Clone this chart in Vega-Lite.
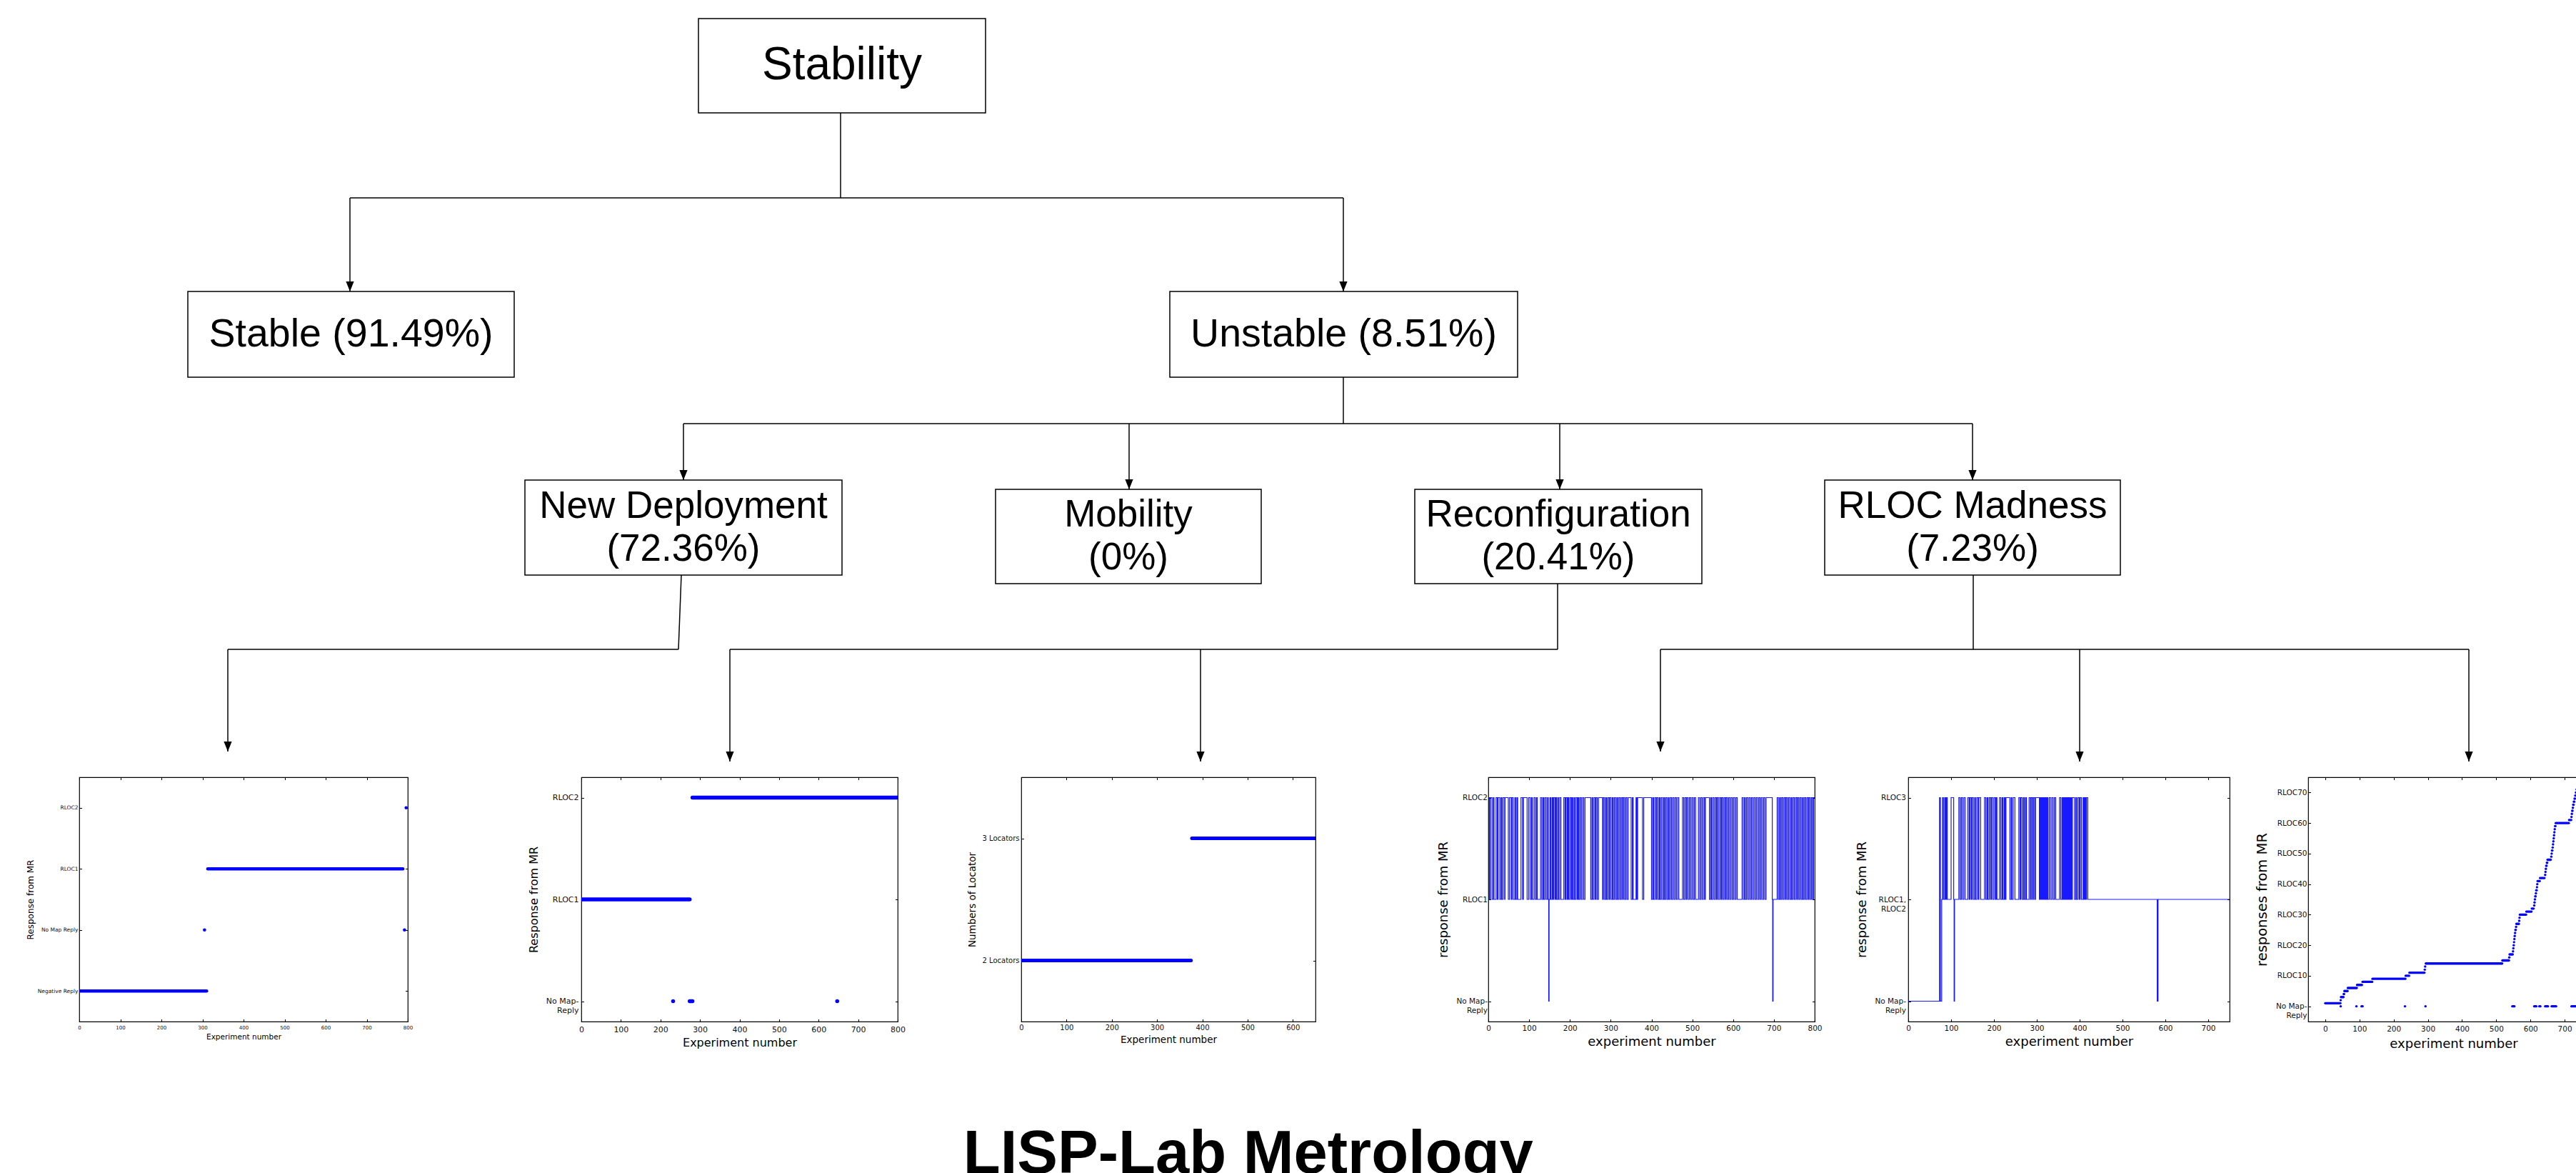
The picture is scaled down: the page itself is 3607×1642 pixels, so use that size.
{
  "$schema": "https://vega.github.io/schema/vega-lite/v6.json",
  "padding": 0,
  "background": "white",
  "config": {
    "view": {"stroke": null},
    "axis": {
      "grid": false, "domain": false, "ticks": true, "tickSize": -3.5, "tickColor": "black", "tickWidth": 1,
      "labelFont": "DejaVu Sans", "labelColor": "#111", "titleFont": "DejaVu Sans", "titleFontWeight": "normal",
      "titleColor": "black", "minExtent": 0, "maxExtent": 0, "labelOverlap": false, "labelFlush": false
    }
  },
  "title": {
    "text": "LISP-Lab Metrology", "orient": "bottom", "anchor": "middle", "font": "Liberation Sans",
    "fontSize": 85, "fontWeight": "bold", "color": "black", "baseline": "alphabetic", "offset": 171, "dx": -77
  },
  "datasets": {
    "nodes": [
      {"node": "Stability", "level": 1, "x0": 978, "x1": 1380, "y0": 26, "y1": 158},
      {"node": "Stable (91.49%)", "level": 2, "x0": 263, "x1": 720, "y0": 408, "y1": 528},
      {"node": "Unstable (8.51%)", "level": 2, "x0": 1638, "x1": 2125, "y0": 408, "y1": 528},
      {"node": "New Deployment\n(72.36%)", "level": 3, "x0": 735, "x1": 1179, "y0": 672, "y1": 805},
      {"node": "Mobility\n(0%)", "level": 3, "x0": 1394, "x1": 1766, "y0": 685, "y1": 817},
      {"node": "Reconfiguration\n(20.41%)", "level": 3, "x0": 1981, "x1": 2383, "y0": 685, "y1": 817},
      {"node": "RLOC Madness\n(7.23%)", "level": 3, "x0": 2555, "x1": 2969, "y0": 672, "y1": 805}
    ],
    "edges": [
      {"x": 1177, "y": 158, "x2": 1177, "y2": 277, "arrow": false},
      {"x": 490, "y": 277, "x2": 1881, "y2": 277, "arrow": false},
      {"x": 490, "y": 277, "x2": 490, "y2": 408, "arrow": true},
      {"x": 1881, "y": 277, "x2": 1881, "y2": 408, "arrow": true},
      {"x": 1881, "y": 528, "x2": 1881, "y2": 593, "arrow": false},
      {"x": 957, "y": 593, "x2": 2762, "y2": 593, "arrow": false},
      {"x": 957, "y": 593, "x2": 957, "y2": 672, "arrow": true},
      {"x": 1581, "y": 593, "x2": 1581, "y2": 685, "arrow": true},
      {"x": 2184, "y": 593, "x2": 2184, "y2": 685, "arrow": true},
      {"x": 2762, "y": 593, "x2": 2762, "y2": 672, "arrow": true},
      {"x": 954, "y": 805, "x2": 950, "y2": 909, "arrow": false},
      {"x": 319, "y": 909, "x2": 950, "y2": 909, "arrow": false},
      {"x": 319, "y": 909, "x2": 319, "y2": 1052, "arrow": true},
      {"x": 2181, "y": 817, "x2": 2181, "y2": 909, "arrow": false},
      {"x": 1022, "y": 909, "x2": 2181, "y2": 909, "arrow": false},
      {"x": 1022, "y": 909, "x2": 1022, "y2": 1066, "arrow": true},
      {"x": 1681, "y": 909, "x2": 1681, "y2": 1066, "arrow": true},
      {"x": 2763, "y": 805, "x2": 2763, "y2": 909, "arrow": false},
      {"x": 2325, "y": 909, "x2": 3457, "y2": 909, "arrow": false},
      {"x": 2325, "y": 909, "x2": 2325, "y2": 1052, "arrow": true},
      {"x": 2912, "y": 909, "x2": 2912, "y2": 1066, "arrow": true},
      {"x": 3457, "y": 909, "x2": 3457, "y2": 1066, "arrow": true}
    ],
    "p1": [
      {"from": 0, "to": 310, "response": "Negative Reply"},
      {"from": 305, "to": 305, "response": "No Map Reply"},
      {"from": 313, "to": 788, "response": "RLOC1"},
      {"from": 792, "to": 792, "response": "No Map Reply"},
      {"from": 796, "to": 796, "response": "RLOC2"}
    ],
    "p2": [
      {"from": 0, "to": 274, "response": "RLOC1"},
      {"from": 281, "to": 800, "response": "RLOC2"},
      {"from": 232, "to": 232, "response": "No Map-Reply"},
      {"from": 274, "to": 281, "response": "No Map-Reply"},
      {"from": 647, "to": 647, "response": "No Map-Reply"}
    ],
    "p3": [
      {"from": 0, "to": 375, "locators": "2 Locators"},
      {"from": 377, "to": 650, "locators": "3 Locators"}
    ],
    "p4": [
      {"e":0,"r":"RLOC2"},{"e":3,"r":"RLOC1"},{"e":5,"r":"RLOC2"},{"e":9,"r":"RLOC1"},{"e":12,"r":"RLOC2"},{"e":14,"r":"RLOC1"},{"e":19,"r":"RLOC2"},{"e":22,"r":"RLOC1"},{"e":24,"r":"RLOC2"},{"e":28,"r":"RLOC1"},{"e":31,"r":"RLOC2"},{"e":33,"r":"RLOC1"},{"e":36,"r":"RLOC2"},{"e":40,"r":"RLOC1"},{"e":41,"r":"RLOC2"},
      {"e":49,"r":"RLOC1"},{"e":52,"r":"RLOC2"},{"e":56,"r":"RLOC1"},{"e":58,"r":"RLOC2"},{"e":61,"r":"RLOC1"},{"e":65,"r":"RLOC2"},{"e":67,"r":"RLOC1"},{"e":70,"r":"RLOC2"},{"e":72,"r":"RLOC1"},
      {"e":80,"r":"RLOC2"},{"e":84,"r":"RLOC1"},{"e":86,"r":"RLOC2"},
      {"e":95,"r":"RLOC1"},{"e":99,"r":"RLOC2"},{"e":103,"r":"RLOC1"},{"e":106,"r":"RLOC2"},{"e":108,"r":"RLOC1"},{"e":112,"r":"RLOC2"},{"e":115,"r":"RLOC1"},{"e":118,"r":"RLOC2"},{"e":120,"r":"RLOC1"},
      {"e":128,"r":"RLOC2"},{"e":131,"r":"RLOC1"},{"e":134,"r":"RLOC2"},{"e":136,"r":"RLOC1"},{"e":139,"r":"RLOC2"},{"e":142,"r":"RLOC1"},{"e":145,"r":"RLOC2"},{"e":147,"r":"RLOC1"},{"e":148,"r":"No Map-Reply"},{"e":149,"r":"RLOC1"},{"e":151,"r":"RLOC2"},{"e":153,"r":"RLOC1"},{"e":156,"r":"RLOC2"},{"e":158,"r":"RLOC1"},{"e":160,"r":"RLOC2"},{"e":163,"r":"RLOC1"},{"e":165,"r":"RLOC2"},{"e":167,"r":"RLOC1"},{"e":170,"r":"RLOC2"},{"e":172,"r":"RLOC1"},{"e":175,"r":"RLOC2"},{"e":178,"r":"RLOC1"},
      {"e":185,"r":"RLOC2"},{"e":188,"r":"RLOC1"},{"e":190,"r":"RLOC2"},{"e":193,"r":"RLOC1"},{"e":195,"r":"RLOC2"},{"e":197,"r":"RLOC1"},{"e":200,"r":"RLOC2"},{"e":203,"r":"RLOC1"},{"e":205,"r":"RLOC2"},{"e":207,"r":"RLOC1"},{"e":210,"r":"RLOC2"},{"e":212,"r":"RLOC1"},{"e":215,"r":"RLOC2"},{"e":218,"r":"RLOC1"},{"e":220,"r":"RLOC2"},{"e":222,"r":"RLOC1"},{"e":225,"r":"RLOC2"},{"e":228,"r":"RLOC1"},{"e":231,"r":"RLOC2"},{"e":234,"r":"RLOC1"},{"e":237,"r":"RLOC2"},
      {"e":251,"r":"RLOC1"},{"e":254,"r":"RLOC2"},{"e":256,"r":"RLOC1"},{"e":259,"r":"RLOC2"},{"e":262,"r":"RLOC1"},{"e":264,"r":"RLOC2"},{"e":267,"r":"RLOC1"},{"e":270,"r":"RLOC2"},
      {"e":280,"r":"RLOC1"},{"e":282,"r":"RLOC2"},{"e":285,"r":"RLOC1"},{"e":288,"r":"RLOC2"},{"e":290,"r":"RLOC1"},{"e":293,"r":"RLOC2"},{"e":296,"r":"RLOC1"},{"e":298,"r":"RLOC2"},{"e":301,"r":"RLOC1"},{"e":304,"r":"RLOC2"},{"e":306,"r":"RLOC1"},{"e":309,"r":"RLOC2"},{"e":312,"r":"RLOC1"},{"e":315,"r":"RLOC2"},{"e":317,"r":"RLOC1"},{"e":320,"r":"RLOC2"},{"e":323,"r":"RLOC1"},{"e":326,"r":"RLOC2"},{"e":329,"r":"RLOC1"},{"e":331,"r":"RLOC2"},{"e":334,"r":"RLOC1"},{"e":337,"r":"RLOC2"},{"e":340,"r":"RLOC1"},{"e":343,"r":"RLOC2"},
      {"e":350,"r":"RLOC1"},{"e":353,"r":"RLOC2"},{"e":355,"r":"RLOC1"},
      {"e":362,"r":"RLOC2"},{"e":364,"r":"RLOC1"},{"e":366,"r":"RLOC2"},
      {"e":378,"r":"RLOC1"},{"e":381,"r":"RLOC2"},
      {"e":400,"r":"RLOC1"},{"e":403,"r":"RLOC2"},{"e":405,"r":"RLOC1"},{"e":408,"r":"RLOC2"},{"e":411,"r":"RLOC1"},{"e":413,"r":"RLOC2"},{"e":416,"r":"RLOC1"},{"e":419,"r":"RLOC2"},{"e":421,"r":"RLOC1"},{"e":424,"r":"RLOC2"},{"e":427,"r":"RLOC1"},{"e":430,"r":"RLOC2"},{"e":432,"r":"RLOC1"},{"e":435,"r":"RLOC2"},{"e":438,"r":"RLOC1"},{"e":441,"r":"RLOC2"},{"e":443,"r":"RLOC1"},{"e":446,"r":"RLOC2"},{"e":449,"r":"RLOC1"},{"e":452,"r":"RLOC2"},{"e":455,"r":"RLOC1"},{"e":458,"r":"RLOC2"},{"e":461,"r":"RLOC1"},{"e":464,"r":"RLOC2"},{"e":467,"r":"RLOC1"},
      {"e":476,"r":"RLOC2"},{"e":479,"r":"RLOC1"},{"e":482,"r":"RLOC2"},{"e":485,"r":"RLOC1"},{"e":487,"r":"RLOC2"},{"e":490,"r":"RLOC1"},{"e":493,"r":"RLOC2"},{"e":496,"r":"RLOC1"},{"e":499,"r":"RLOC2"},{"e":502,"r":"RLOC1"},{"e":505,"r":"RLOC2"},{"e":508,"r":"RLOC1"},
      {"e":515,"r":"RLOC2"},{"e":518,"r":"RLOC1"},{"e":521,"r":"RLOC2"},{"e":524,"r":"RLOC1"},{"e":527,"r":"RLOC2"},{"e":530,"r":"RLOC1"},{"e":532,"r":"RLOC2"},
      {"e":542,"r":"RLOC1"},{"e":545,"r":"RLOC2"},{"e":547,"r":"RLOC1"},{"e":550,"r":"RLOC2"},{"e":553,"r":"RLOC1"},{"e":556,"r":"RLOC2"},{"e":559,"r":"RLOC1"},{"e":561,"r":"RLOC2"},{"e":564,"r":"RLOC1"},{"e":567,"r":"RLOC2"},{"e":570,"r":"RLOC1"},{"e":572,"r":"RLOC2"},{"e":575,"r":"RLOC1"},{"e":578,"r":"RLOC2"},{"e":581,"r":"RLOC1"},{"e":583,"r":"RLOC2"},{"e":586,"r":"RLOC1"},{"e":589,"r":"RLOC2"},{"e":592,"r":"RLOC1"},{"e":595,"r":"RLOC2"},{"e":598,"r":"RLOC1"},{"e":601,"r":"RLOC2"},{"e":604,"r":"RLOC1"},{"e":607,"r":"RLOC2"},{"e":610,"r":"RLOC1"},
      {"e":622,"r":"RLOC2"},{"e":625,"r":"RLOC1"},{"e":628,"r":"RLOC2"},{"e":630,"r":"RLOC1"},{"e":633,"r":"RLOC2"},{"e":636,"r":"RLOC1"},{"e":639,"r":"RLOC2"},{"e":642,"r":"RLOC1"},{"e":645,"r":"RLOC2"},{"e":648,"r":"RLOC1"},{"e":651,"r":"RLOC2"},{"e":654,"r":"RLOC1"},{"e":657,"r":"RLOC2"},{"e":660,"r":"RLOC1"},{"e":663,"r":"RLOC2"},{"e":666,"r":"RLOC1"},{"e":669,"r":"RLOC2"},{"e":672,"r":"RLOC1"},{"e":675,"r":"RLOC2"},{"e":678,"r":"RLOC1"},{"e":681,"r":"RLOC2"},
      {"e":696,"r":"RLOC1"},{"e":697,"r":"No Map-Reply"},{"e":698,"r":"RLOC1"},
      {"e":708,"r":"RLOC2"},{"e":711,"r":"RLOC1"},{"e":714,"r":"RLOC2"},{"e":716,"r":"RLOC1"},{"e":719,"r":"RLOC2"},{"e":722,"r":"RLOC1"},{"e":725,"r":"RLOC2"},{"e":728,"r":"RLOC1"},{"e":730,"r":"RLOC2"},{"e":733,"r":"RLOC1"},{"e":736,"r":"RLOC2"},{"e":739,"r":"RLOC1"},{"e":742,"r":"RLOC2"},{"e":744,"r":"RLOC1"},{"e":747,"r":"RLOC2"},{"e":750,"r":"RLOC1"},{"e":753,"r":"RLOC2"},{"e":756,"r":"RLOC1"},{"e":758,"r":"RLOC2"},{"e":761,"r":"RLOC1"},{"e":764,"r":"RLOC2"},{"e":767,"r":"RLOC1"},{"e":770,"r":"RLOC2"},{"e":772,"r":"RLOC1"},{"e":775,"r":"RLOC2"},{"e":778,"r":"RLOC1"},{"e":781,"r":"RLOC2"},{"e":784,"r":"RLOC1"},{"e":786,"r":"RLOC2"},{"e":789,"r":"RLOC1"},{"e":792,"r":"RLOC2"},{"e":795,"r":"RLOC1"},{"e":797,"r":"RLOC2"},{"e":800,"r":"RLOC2"}
    ],
    "p5": [
      {"e":0,"r":"No Map-Reply"},{"e":73,"r":"RLOC3"},{"e":75,"r":"No Map-Reply"},{"e":78,"r":"RLOC1, RLOC2"},{"e":80,"r":"RLOC3"},{"e":82,"r":"RLOC1, RLOC2"},{"e":85,"r":"RLOC3"},{"e":87,"r":"RLOC1, RLOC2"},{"e":89,"r":"RLOC3"},{"e":91,"r":"RLOC1, RLOC2"},
      {"e":100,"r":"RLOC3"},{"e":106,"r":"RLOC1, RLOC2"},{"e":107,"r":"No Map-Reply"},{"e":108,"r":"RLOC1, RLOC2"},
      {"e":118,"r":"RLOC3"},{"e":121,"r":"RLOC1, RLOC2"},{"e":124,"r":"RLOC3"},{"e":127,"r":"RLOC1, RLOC2"},{"e":130,"r":"RLOC3"},{"e":133,"r":"RLOC1, RLOC2"},
      {"e":139,"r":"RLOC3"},{"e":142,"r":"RLOC1, RLOC2"},{"e":144,"r":"RLOC3"},{"e":147,"r":"RLOC1, RLOC2"},{"e":149,"r":"RLOC3"},{"e":152,"r":"RLOC1, RLOC2"},{"e":155,"r":"RLOC3"},{"e":157,"r":"RLOC1, RLOC2"},{"e":160,"r":"RLOC3"},{"e":163,"r":"RLOC1, RLOC2"},{"e":165,"r":"RLOC3"},{"e":169,"r":"RLOC1, RLOC2"},
      {"e":178,"r":"RLOC3"},{"e":181,"r":"RLOC1, RLOC2"},{"e":184,"r":"RLOC3"},{"e":186,"r":"RLOC1, RLOC2"},{"e":189,"r":"RLOC3"},{"e":192,"r":"RLOC1, RLOC2"},{"e":194,"r":"RLOC3"},{"e":197,"r":"RLOC1, RLOC2"},{"e":200,"r":"RLOC3"},{"e":203,"r":"RLOC1, RLOC2"},{"e":205,"r":"RLOC3"},{"e":207,"r":"RLOC1, RLOC2"},
      {"e":213,"r":"RLOC3"},{"e":216,"r":"RLOC1, RLOC2"},{"e":219,"r":"RLOC3"},{"e":221,"r":"RLOC1, RLOC2"},{"e":224,"r":"RLOC3"},{"e":226,"r":"RLOC1, RLOC2"},{"e":228,"r":"RLOC3"},
      {"e":237,"r":"RLOC1, RLOC2"},{"e":240,"r":"RLOC3"},{"e":242,"r":"RLOC1, RLOC2"},{"e":245,"r":"RLOC3"},{"e":249,"r":"RLOC1, RLOC2"},
      {"e":258,"r":"RLOC3"},{"e":261,"r":"RLOC1, RLOC2"},{"e":263,"r":"RLOC3"},{"e":266,"r":"RLOC1, RLOC2"},{"e":269,"r":"RLOC3"},{"e":271,"r":"RLOC1, RLOC2"},{"e":274,"r":"RLOC3"},{"e":276,"r":"RLOC1, RLOC2"},
      {"e":282,"r":"RLOC3"},{"e":285,"r":"RLOC1, RLOC2"},{"e":287,"r":"RLOC3"},{"e":290,"r":"RLOC1, RLOC2"},{"e":292,"r":"RLOC3"},{"e":295,"r":"RLOC1, RLOC2"},{"e":297,"r":"RLOC3"},
      {"e":306,"r":"RLOC1, RLOC2"},{"e":308,"r":"RLOC3"},{"e":309,"r":"RLOC1, RLOC2"},{"e":311,"r":"RLOC3"},{"e":312,"r":"RLOC1, RLOC2"},{"e":314,"r":"RLOC3"},{"e":316,"r":"RLOC1, RLOC2"},{"e":317,"r":"RLOC3"},{"e":319,"r":"RLOC1, RLOC2"},{"e":320,"r":"RLOC3"},{"e":322,"r":"RLOC1, RLOC2"},{"e":324,"r":"RLOC3"},{"e":326,"r":"RLOC1, RLOC2"},{"e":329,"r":"RLOC3"},{"e":332,"r":"RLOC1, RLOC2"},{"e":335,"r":"RLOC3"},{"e":338,"r":"RLOC1, RLOC2"},{"e":341,"r":"RLOC3"},{"e":344,"r":"RLOC1, RLOC2"},
      {"e":353,"r":"RLOC3"},{"e":356,"r":"RLOC1, RLOC2"},{"e":359,"r":"RLOC3"},{"e":361,"r":"RLOC1, RLOC2"},{"e":362,"r":"RLOC3"},{"e":364,"r":"RLOC1, RLOC2"},{"e":365,"r":"RLOC3"},{"e":367,"r":"RLOC1, RLOC2"},{"e":368,"r":"RLOC3"},{"e":370,"r":"RLOC1, RLOC2"},{"e":371,"r":"RLOC3"},{"e":373,"r":"RLOC1, RLOC2"},{"e":374,"r":"RLOC3"},{"e":376,"r":"RLOC1, RLOC2"},{"e":377,"r":"RLOC3"},{"e":379,"r":"RLOC1, RLOC2"},{"e":380,"r":"RLOC3"},{"e":382,"r":"RLOC1, RLOC2"},{"e":383,"r":"RLOC3"},
      {"e":388,"r":"RLOC1, RLOC2"},{"e":391,"r":"RLOC3"},{"e":393,"r":"RLOC1, RLOC2"},{"e":396,"r":"RLOC3"},{"e":399,"r":"RLOC1, RLOC2"},{"e":401,"r":"RLOC3"},{"e":404,"r":"RLOC1, RLOC2"},
      {"e":408,"r":"RLOC3"},{"e":410,"r":"RLOC1, RLOC2"},{"e":412,"r":"RLOC3"},{"e":414,"r":"RLOC1, RLOC2"},{"e":416,"r":"RLOC3"},{"e":419,"r":"RLOC1, RLOC2"},
      {"e":581,"r":"No Map-Reply"},{"e":583,"r":"RLOC1, RLOC2"},{"e":750,"r":"RLOC1, RLOC2"}
    ],
    "p6": [
      {"from":0,"to":44,"rloc":1},{"from":45,"to":45,"rloc":2},{"from":46,"to":53,"rloc":3},{"from":54,"to":55,"rloc":4},{"from":56,"to":65,"rloc":5},{"from":66,"to":92,"rloc":6},{"from":93,"to":107,"rloc":7},{"from":109,"to":137,"rloc":8},{"from":138,"to":234,"rloc":9},{"from":235,"to":245,"rloc":10},{"from":246,"to":290,"rloc":11},{"from":291,"to":291,"rloc":12},{"from":292,"to":292,"rloc":13},{"from":294,"to":517,"rloc":14},{"from":518,"to":537,"rloc":15},{"from":538,"to":538,"rloc":16},{"from":539,"to":548,"rloc":17},
      {"from":549,"to":549,"rloc":18},{"from":550,"to":550,"rloc":19},{"from":551,"to":551,"rloc":20},{"from":552,"to":552,"rloc":21},{"from":553,"to":553,"rloc":22},{"from":554,"to":554,"rloc":23},{"from":555,"to":555,"rloc":24},{"from":556,"to":557,"rloc":25},{"from":558,"to":558,"rloc":26},{"from":559,"to":566,"rloc":27},{"from":567,"to":567,"rloc":28},{"from":568,"to":568,"rloc":29},{"from":569,"to":587,"rloc":30},{"from":588,"to":603,"rloc":31},{"from":604,"to":609,"rloc":32},
      {"from":611,"to":611,"rloc":33},{"from":612,"to":612,"rloc":34},{"from":613,"to":613,"rloc":35},{"from":614,"to":615,"rloc":36},{"from":616,"to":616,"rloc":37},{"from":617,"to":618,"rloc":38},{"from":619,"to":619,"rloc":39},{"from":620,"to":620,"rloc":40},{"from":621,"to":627,"rloc":41},{"from":628,"to":641,"rloc":42},
      {"from":643,"to":643,"rloc":43},{"from":644,"to":644,"rloc":44},{"from":645,"to":645,"rloc":45},{"from":646,"to":647,"rloc":46},{"from":648,"to":649,"rloc":47},{"from":650,"to":659,"rloc":48},
      {"from":661,"to":661,"rloc":49},{"from":662,"to":662,"rloc":50},{"from":663,"to":664,"rloc":51},{"from":665,"to":665,"rloc":52},{"from":666,"to":666,"rloc":53},{"from":667,"to":667,"rloc":54},{"from":668,"to":668,"rloc":55},{"from":669,"to":669,"rloc":56},{"from":670,"to":670,"rloc":57},{"from":671,"to":671,"rloc":58},{"from":672,"to":673,"rloc":59},{"from":674,"to":712,"rloc":60},{"from":713,"to":719,"rloc":61},
      {"from":720,"to":720,"rloc":62},{"from":721,"to":721,"rloc":63},{"from":722,"to":723,"rloc":64},{"from":724,"to":724,"rloc":65},{"from":725,"to":726,"rloc":66},{"from":727,"to":728,"rloc":67},{"from":729,"to":730,"rloc":68},{"from":731,"to":732,"rloc":69},{"from":733,"to":734,"rloc":70},{"from":735,"to":736,"rloc":71},
      {"from":45,"to":45,"rloc":0},{"from":91,"to":91,"rloc":0},{"from":106,"to":109,"rloc":0},{"from":233,"to":233,"rloc":0},{"from":293,"to":293,"rloc":0},{"from":547,"to":553,"rloc":0},{"from":611,"to":617,"rloc":0},{"from":626,"to":629,"rloc":0},{"from":643,"to":651,"rloc":0},{"from":662,"to":675,"rloc":0},{"from":720,"to":735,"rloc":0}
    ]
  },
  "spacing": 0,
  "vconcat": [
    {
      "width": 3607,
      "height": 1086,
      "layer": [
        {
          "data": {"name": "edges"},
          "mark": {"type": "rule", "color": "black", "strokeWidth": 1.5},
          "encoding": {
            "x": {"field": "x", "type": "quantitative", "scale": {"domain": [0, 3607], "nice": false, "zero": false}, "axis": null},
            "x2": {"field": "x2"},
            "y": {"field": "y", "type": "quantitative", "scale": {"domain": [0, 1086], "reverse": true, "nice": false, "zero": false}, "axis": null},
            "y2": {"field": "y2"}
          }
        },
        {
          "data": {"name": "edges"},
          "transform": [{"filter": "datum.arrow"}],
          "mark": {"type": "point", "shape": "M-0.8,-2L0.8,-2L0,0Z", "size": 196, "filled": true, "color": "black", "opacity": 1},
          "encoding": {
            "x": {"field": "x2", "type": "quantitative", "scale": {"domain": [0, 3607], "nice": false, "zero": false}, "axis": null},
            "y": {"field": "y2", "type": "quantitative", "scale": {"domain": [0, 1086], "reverse": true, "nice": false, "zero": false}, "axis": null}
          }
        },
        {
          "data": {"name": "nodes"},
          "mark": {"type": "rect", "fill": "white", "stroke": "black", "strokeWidth": 1.5},
          "encoding": {
            "x": {"field": "x0", "type": "quantitative", "scale": {"domain": [0, 3607], "nice": false, "zero": false}, "axis": null},
            "x2": {"field": "x1"},
            "y": {"field": "y0", "type": "quantitative", "scale": {"domain": [0, 1086], "reverse": true, "nice": false, "zero": false}, "axis": null},
            "y2": {"field": "y1"}
          }
        },
        {
          "data": {"name": "nodes"},
          "transform": [
            {"filter": "datum.level <= 2"},
            {"calculate": "(datum.x0 + datum.x1) / 2", "as": "cx"},
            {"calculate": "(datum.y0 + datum.y1) / 2", "as": "cy"}
          ],
          "mark": {"type": "text", "font": "Liberation Sans", "color": "black", "align": "center", "baseline": "middle"},
          "encoding": {
            "x": {"field": "cx", "type": "quantitative", "scale": {"domain": [0, 3607], "nice": false, "zero": false}, "axis": null},
            "y": {"field": "cy", "type": "quantitative", "scale": {"domain": [0, 1086], "reverse": true, "nice": false, "zero": false}, "axis": null},
            "text": {"field": "node", "type": "nominal"},
            "size": {"field": "level", "type": "ordinal", "scale": {"domain": [1, 2], "range": [64, 55.5]}, "legend": null}
          }
        },
        {
          "data": {"name": "nodes"},
          "transform": [
            {"filter": "datum.level == 3"},
            {"calculate": "(datum.x0 + datum.x1) / 2", "as": "cx"},
            {"calculate": "(datum.y0 + datum.y1) / 2", "as": "cy"}
          ],
          "mark": {"type": "text", "font": "Liberation Sans", "fontSize": 53, "color": "black", "align": "center", "baseline": "middle", "lineBreak": "\n", "lineHeight": 60, "dy": -30},
          "encoding": {
            "x": {"field": "cx", "type": "quantitative", "scale": {"domain": [0, 3607], "nice": false, "zero": false}, "axis": null},
            "y": {"field": "cy", "type": "quantitative", "scale": {"domain": [0, 1086], "reverse": true, "nice": false, "zero": false}, "axis": null},
            "text": {"field": "node", "type": "nominal"}
          }
        }
      ]
    },
    {
      "bounds": "flush",
      "spacing": 0,
      "hconcat": [
        {"width": 111, "height": 342, "data": {"values": []}, "mark": "text"},
        {
          "width": 460, "height": 342,
          "view": {"stroke": "black", "strokeWidth": 1.2},
          "data": {"name": "p1"},
          "layer": [
            {
              "mark": {"type": "rule", "strokeCap": "round", "strokeWidth": 4.6, "color": "#0000ff", "clip": true},
              "encoding": {
                "x": {"field": "from", "type": "quantitative", "scale": {"domain": [0, 800], "nice": false, "zero": false},
                      "axis": {"values": [0,100,200,300,400,500,600,700,800], "title": "Experiment number", "labelFontSize": 7, "titleFontSize": 10.5, "labelPadding": 7.5, "titlePadding": 16}},
                "x2": {"field": "to"},
                "y": {"field": "response", "type": "nominal", "scale": {"type": "point", "domain": ["RLOC2", "RLOC1", "No Map Reply", "Negative Reply"], "padding": 0.5},
                      "axis": {"title": "Response from MR", "labelFontSize": 7.5, "titleFontSize": 12, "labelPadding": 5.5, "titlePadding": 62}}
              }
            },
            {
              "mark": {"type": "point", "opacity": 0},
              "encoding": {
                "x": {"field": "from", "type": "quantitative", "scale": {"domain": [0, 800], "nice": false, "zero": false},
                      "axis": {"orient": "top", "values": [0,100,200,300,400,500,600,700,800], "labels": false, "title": null}},
                "y": {"field": "response", "type": "nominal", "scale": {"type": "point", "domain": ["RLOC2", "RLOC1", "No Map Reply", "Negative Reply"], "padding": 0.5},
                      "axis": {"orient": "right", "labels": false, "title": null}}
              }
            }
          ],
          "resolve": {"axis": {"x": "independent", "y": "independent"}}
        },
        {"width": 243, "height": 342, "data": {"values": []}, "mark": "text"},
        {
          "width": 443, "height": 342,
          "view": {"stroke": "black", "strokeWidth": 1.2},
          "data": {"name": "p2"},
          "layer": [
            {
              "mark": {"type": "rule", "strokeCap": "round", "strokeWidth": 5.5, "color": "#0000ff", "clip": true},
              "encoding": {
                "x": {"field": "from", "type": "quantitative", "scale": {"domain": [0, 800], "nice": false, "zero": false},
                      "axis": {"values": [0,100,200,300,400,500,600,700,800], "title": "Experiment number", "labelFontSize": 11, "titleFontSize": 16, "labelPadding": 8.5, "titlePadding": 21}},
                "x2": {"field": "to"},
                "y": {"field": "response", "type": "nominal", "scale": {"type": "point", "domain": ["RLOC2", "RLOC1", "No Map-Reply"], "padding": 0.2},
                      "axis": {"title": "Response from MR", "labelFontSize": 11, "labelLineHeight": 13, "titleFontSize": 16, "labelPadding": 7.5, "titlePadding": 59,
                               "labelExpr": "datum.label == 'No Map-Reply' ? ['No Map-', 'Reply'] : datum.label"}}
              }
            },
            {
              "mark": {"type": "point", "opacity": 0},
              "encoding": {
                "x": {"field": "from", "type": "quantitative", "scale": {"domain": [0, 800], "nice": false, "zero": false},
                      "axis": {"orient": "top", "values": [0,100,200,300,400,500,600,700,800], "labels": false, "title": null}},
                "y": {"field": "response", "type": "nominal", "scale": {"type": "point", "domain": ["RLOC2", "RLOC1", "No Map-Reply"], "padding": 0.2},
                      "axis": {"orient": "right", "labels": false, "title": null}}
              }
            }
          ],
          "resolve": {"axis": {"x": "independent", "y": "independent"}}
        },
        {"width": 173, "height": 342, "data": {"values": []}, "mark": "text"},
        {
          "width": 412, "height": 342,
          "view": {"stroke": "black", "strokeWidth": 1.2},
          "data": {"name": "p3"},
          "layer": [
            {
              "mark": {"type": "rule", "strokeCap": "round", "strokeWidth": 5, "color": "#0000ff", "clip": true},
              "encoding": {
                "x": {"field": "from", "type": "quantitative", "scale": {"domain": [0, 650], "nice": false, "zero": false},
                      "axis": {"values": [0,100,200,300,400,500,600], "title": "Experiment number", "labelFontSize": 10, "titleFontSize": 13.5, "labelPadding": 7, "titlePadding": 18}},
                "x2": {"field": "to"},
                "y": {"field": "locators", "type": "nominal", "scale": {"type": "point", "domain": ["3 Locators", "2 Locators"], "padding": 0.5},
                      "axis": {"title": "Numbers of Locator", "labelFontSize": 10, "titleFontSize": 13.5, "labelPadding": 6.5, "titlePadding": 62}}
              }
            },
            {
              "mark": {"type": "point", "opacity": 0},
              "encoding": {
                "x": {"field": "from", "type": "quantitative", "scale": {"domain": [0, 650], "nice": false, "zero": false},
                      "axis": {"orient": "top", "values": [0,100,200,300,400,500,600], "labels": false, "title": null}},
                "y": {"field": "locators", "type": "nominal", "scale": {"type": "point", "domain": ["3 Locators", "2 Locators"], "padding": 0.5},
                      "axis": {"orient": "right", "labels": false, "title": null}}
              }
            }
          ],
          "resolve": {"axis": {"x": "independent", "y": "independent"}}
        },
        {"width": 242, "height": 342, "data": {"values": []}, "mark": "text"},
        {
          "width": 457, "height": 342,
          "view": {"stroke": "black", "strokeWidth": 1.2},
          "data": {"name": "p4"},
          "layer": [
            {
              "mark": {"type": "line", "interpolate": "step-after", "strokeWidth": 1.2, "color": "#0000ff", "opacity": 0.9, "clip": true},
              "encoding": {
                "x": {"field": "e", "type": "quantitative", "scale": {"domain": [0, 800], "nice": false, "zero": false},
                      "axis": {"values": [0,100,200,300,400,500,600,700,800], "title": "experiment number", "labelFontSize": 10.5, "titleFontSize": 18, "labelPadding": 7.5, "titlePadding": 19}},
                "y": {"field": "r", "type": "nominal", "scale": {"type": "point", "domain": ["RLOC2", "RLOC1", "No Map-Reply"], "padding": 0.2},
                      "axis": {"title": "response from MR", "labelFontSize": 10.5, "labelLineHeight": 13, "titleFontSize": 18, "labelPadding": 5, "titlePadding": 54,
                               "labelExpr": "datum.label == 'No Map-Reply' ? ['No Map-', 'Reply'] : datum.label"}},
                "order": {"field": "e", "type": "quantitative"}
              }
            },
            {
              "mark": {"type": "point", "opacity": 0},
              "encoding": {
                "x": {"field": "e", "type": "quantitative", "scale": {"domain": [0, 800], "nice": false, "zero": false},
                      "axis": {"orient": "top", "values": [0,100,200,300,400,500,600,700,800], "labels": false, "title": null}},
                "y": {"field": "r", "type": "nominal", "scale": {"type": "point", "domain": ["RLOC2", "RLOC1", "No Map-Reply"], "padding": 0.2},
                      "axis": {"orient": "right", "labels": false, "title": null}}
              }
            }
          ],
          "resolve": {"axis": {"x": "independent", "y": "independent"}}
        },
        {"width": 131, "height": 342, "data": {"values": []}, "mark": "text"},
        {
          "width": 450, "height": 342,
          "view": {"stroke": "black", "strokeWidth": 1.2},
          "data": {"name": "p5"},
          "layer": [
            {
              "mark": {"type": "line", "interpolate": "step-after", "strokeWidth": 1.2, "color": "#0000ff", "opacity": 0.9, "clip": true},
              "encoding": {
                "x": {"field": "e", "type": "quantitative", "scale": {"domain": [0, 750], "nice": false, "zero": false},
                      "axis": {"values": [0,100,200,300,400,500,600,700], "title": "experiment number", "labelFontSize": 10.5, "titleFontSize": 18, "labelPadding": 7.5, "titlePadding": 19}},
                "y": {"field": "r", "type": "nominal", "scale": {"type": "point", "domain": ["RLOC3", "RLOC1, RLOC2", "No Map-Reply"], "padding": 0.2},
                      "axis": {"title": "response from MR", "labelFontSize": 10.5, "labelLineHeight": 13, "titleFontSize": 18, "labelPadding": 7, "titlePadding": 56,
                               "labelExpr": "datum.label == 'No Map-Reply' ? ['No Map-', 'Reply'] : datum.label == 'RLOC1, RLOC2' ? ['RLOC1,', 'RLOC2'] : datum.label"}},
                "order": {"field": "e", "type": "quantitative"}
              }
            },
            {
              "mark": {"type": "point", "opacity": 0},
              "encoding": {
                "x": {"field": "e", "type": "quantitative", "scale": {"domain": [0, 750], "nice": false, "zero": false},
                      "axis": {"orient": "top", "values": [0,100,200,300,400,500,600,700], "labels": false, "title": null}},
                "y": {"field": "r", "type": "nominal", "scale": {"type": "point", "domain": ["RLOC3", "RLOC1, RLOC2", "No Map-Reply"], "padding": 0.2},
                      "axis": {"orient": "right", "labels": false, "title": null}}
              }
            }
          ],
          "resolve": {"axis": {"x": "independent", "y": "independent"}}
        },
        {"width": 110, "height": 342, "data": {"values": []}, "mark": "text"},
        {
          "width": 407, "height": 342,
          "view": {"stroke": "black", "strokeWidth": 1.2},
          "data": {"name": "p6"},
          "layer": [
            {
              "mark": {"type": "rule", "strokeCap": "round", "strokeWidth": 3.4, "color": "#0000ff", "clip": true},
              "encoding": {
                "x": {"field": "from", "type": "quantitative", "scale": {"domain": [-50, 800], "nice": false, "zero": false},
                      "axis": {"values": [0,100,200,300,400,500,600,700,800], "title": "experiment number", "labelFontSize": 10.5, "titleFontSize": 18, "labelPadding": 8.5, "titlePadding": 22}},
                "x2": {"field": "to"},
                "y": {"field": "rloc", "type": "quantitative", "scale": {"domain": [-5, 75], "nice": false, "zero": false},
                      "axis": {"values": [0,10,20,30,40,50,60,70], "title": "responses from MR", "labelFontSize": 10.5, "labelLineHeight": 13.3, "titleFontSize": 19.5, "labelPadding": 5.5, "titlePadding": 55,
                               "labelExpr": "datum.value == 0 ? ['No Map-', 'Reply'] : 'RLOC' + datum.value"}}
              }
            },
            {
              "mark": {"type": "point", "opacity": 0},
              "encoding": {
                "x": {"field": "from", "type": "quantitative", "scale": {"domain": [-50, 800], "nice": false, "zero": false},
                      "axis": {"orient": "top", "values": [0,100,200,300,400,500,600,700,800], "labels": false, "title": null}},
                "y": {"field": "rloc", "type": "quantitative", "scale": {"domain": [-5, 75], "nice": false, "zero": false},
                      "axis": {"orient": "right", "values": [0,10,20,30,40,50,60,70], "labels": false, "title": null}}
              }
            }
          ],
          "resolve": {"axis": {"x": "independent", "y": "independent"}}
        }
      ]
    }
  ]
}
